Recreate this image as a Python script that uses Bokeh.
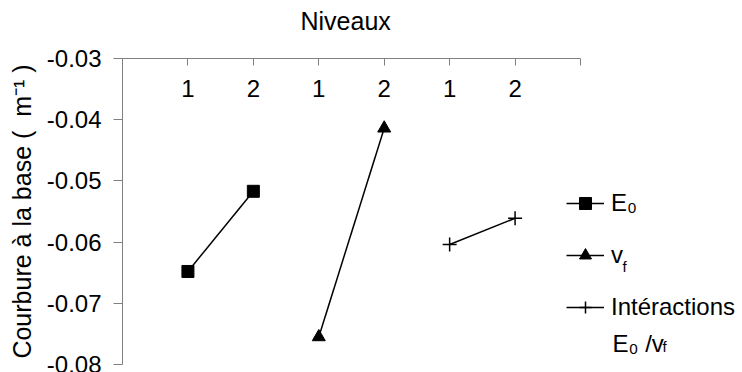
from bokeh.plotting import figure
from bokeh.models import (Range1d, LinearAxis, FixedTicker, PrintfTickFormatter,
                          Legend, LegendItem, Label)
from bokeh.embed import file_html
from bokeh.resources import INLINE

# ---------------- data ----------------
levels = ["1", "2", "1", "2", "1", "2"]          # category tick labels (Niveaux)
level_pos = [1, 2, 3, 4, 5, 6, 7]                  # tick positions on the category axis

e0_x = [1, 2]
e0_y = [-0.0648, -0.0517]
vf_x = [3, 4]
vf_y = [-0.0755, -0.0414]
int_x = [5, 6]
int_y = [-0.0604, -0.0561]

y_ticks = [-0.08, -0.07, -0.06, -0.05, -0.04, -0.03]

# ---------------- layout ----------------
FONT = "Liberation Sans"
FS = "24px"
W, H = 742, 372
FL, FT, FB = 122, 58, 8
AXIS_PX = 458                       # width of the 7 category slots
x_end = 7 * (W - FL) / AXIS_PX      # frame extends to host the legend

p = figure(width=W, height=H, output_backend="svg", toolbar_location=None,
           x_range=Range1d(0, x_end), y_range=Range1d(-0.08, -0.03),
           x_axis_location=None, y_axis_location=None,
           min_border_left=FL, min_border_top=FT, min_border_bottom=FB,
           min_border_right=0)
p.outline_line_color = None
p.xgrid.visible = False
p.ygrid.visible = False
p.background_fill_color = "white"
p.border_fill_color = "white"

GREY = "#808080"

yaxis = LinearAxis(ticker=FixedTicker(ticks=y_ticks),
                   formatter=PrintfTickFormatter(format="%.2f"),
                   axis_label="Courbure à la base (\u00a0\u00a0m⁻¹ )",
                   axis_label_text_font=FONT, axis_label_text_font_size="25px",
                   axis_label_text_font_style="normal", axis_label_text_color="black",
                   axis_label_standoff=8,
                   major_label_text_font=FONT, major_label_text_font_size=FS,
                   major_label_text_color="black",
                   major_label_standoff=12,
                   major_tick_out=9, major_tick_in=0,
                   minor_tick_out=0, minor_tick_in=0,
                   axis_line_color=GREY, major_tick_line_color=GREY)
p.add_layout(yaxis, "left")

overrides = {pos: lab for pos, lab in zip(level_pos, levels)}
overrides[level_pos[-1]] = ""
# trailing no-break spaces keep the title centred over the category slots
xaxis = LinearAxis(ticker=FixedTicker(ticks=level_pos), bounds=(0, 7),
                   major_label_overrides=overrides,
                   axis_label="Niveaux" + "\u00a0" * 25,
                   axis_label_text_font=FONT, axis_label_text_font_size="25px",
                   axis_label_text_font_style="normal", axis_label_text_color="black",
                   axis_label_standoff=42,
                   major_label_text_font=FONT, major_label_text_font_size=FS,
                   major_label_text_color="black",
                   major_label_standoff=-38,
                   major_tick_out=0, major_tick_in=7,
                   minor_tick_out=0, minor_tick_in=0,
                   axis_line_color=GREY, major_tick_line_color=GREY)
p.add_layout(xaxis, "above")

# ---------------- series ----------------
LW = 1.5
r1l = p.line(e0_x, e0_y, line_color="black", line_width=LW)
r1m = p.scatter(e0_x, e0_y, marker="square", size=12, color="black")
r2l = p.line(vf_x, vf_y, line_color="black", line_width=LW)
r2m = p.scatter(vf_x, vf_y, marker="triangle", size=13, color="black")
r3l = p.line(int_x, int_y, line_color="black", line_width=LW)
r3m = p.scatter(int_x, int_y, marker="cross", size=14, line_color="black", line_width=LW)

legend = Legend(items=[LegendItem(label="E₀", renderers=[r1l, r1m]),
                       LegendItem(label="v", renderers=[r2l, r2m]),
                       LegendItem(label="Intéractions", renderers=[r3l, r3m])],
                location=(444, 42), border_line_color=None, background_fill_alpha=0,
                padding=0, margin=0, spacing=22, glyph_width=38, glyph_height=30,
                label_height=30, label_standoff=7,
                label_text_font=FONT, label_text_font_size=FS,
                label_text_color="black")
p.add_layout(legend)

# subscripts / second legend line (positions in picture pixels -> data)
def dx(px):
    return (px - FL) * 7 / AXIS_PX

def dy(py):
    return -0.03 - (py - FT) / (H - FT - FB) * 0.05

p.add_layout(Label(x=dx(622), y=dy(266), text="f", text_font=FONT,
                   text_font_size="15px", text_baseline="alphabetic",
                   text_color="black"))
p.add_layout(Label(x=dx(612), y=dy(343), text="E₀ /v", text_font=FONT,
                   text_font_size=FS, text_baseline="alphabetic",
                   text_color="black"))
p.add_layout(Label(x=dx(662), y=dy(346), text="f", text_font=FONT,
                   text_font_size="15px", text_baseline="alphabetic",
                   text_color="black"))

open("out.html", "w").write(file_html(p, INLINE))
